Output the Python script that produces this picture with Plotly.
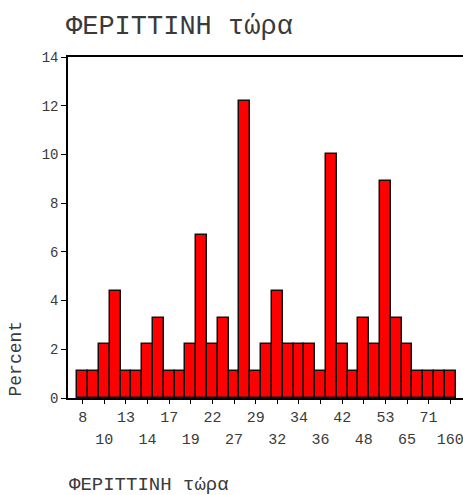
import plotly.graph_objects as go

# Percent of cases per category (35 bars, left to right)
bar_percent = [1.1, 1.1, 2.2, 4.4, 1.1, 1.1, 2.2, 3.3, 1.1, 1.1,
               2.2, 6.7, 2.2, 3.3, 1.1, 12.2, 1.1, 2.2, 4.4, 2.2,
               2.2, 2.2, 1.1, 10.0, 2.2, 1.1, 3.3, 2.2, 8.9, 3.3,
               2.2, 1.1, 1.1, 1.1, 1.1]
bar_index = list(range(len(bar_percent)))

# tick labels (every second bar carries a label, alternating in two rows)
tick_labels_row1 = ["8", "13", "17", "22", "29", "34", "42", "53", "71"]
tick_labels_row2 = ["10", "14", "19", "27", "32", "36", "48", "65", "160"]
y_ticks = [0, 2, 4, 6, 8, 10, 12, 14]

title_text = "ΦΕΡΙΤΤΙΝΗ τώρα"
x_title_text = "ΦΕΡΙΤΤΙΝΗ τώρα"
y_title_text = "Percent"

FONT = "Liberation Mono, Courier New, monospace"
TXT = "#3a3a3a"

labeled = bar_index[::2]
row1_vals = labeled[::2]
row2_vals = labeled[1::2]
main_ticktext = []
for i, v in enumerate(labeled):
    main_ticktext.append(tick_labels_row1[i // 2] if i % 2 == 0 else "")

fig = go.Figure()
fig.add_trace(go.Bar(
    x=bar_index, y=bar_percent, width=1.0,
    marker=dict(color="#ff0000", line=dict(color="#111111", width=1.5)),
    showlegend=False, hoverinfo="y",
))
# invisible trace for the second row of tick labels
fig.add_trace(go.Scatter(x=[bar_index[0]], y=[0], xaxis="x2", yaxis="y",
                         mode="markers", marker=dict(opacity=0),
                         showlegend=False, hoverinfo="skip"))

W, H = 463, 495
top, bottom = 57, 421
plot_h = bottom - top
y_axis_px = 398
ydom0 = (bottom - y_axis_px) / plot_h
xr = [-1.36, 35.18]

fig.update_layout(
    width=W, height=H,
    margin=dict(l=68, r=0, t=top, b=H - bottom),
    paper_bgcolor="white", plot_bgcolor="white",
    bargap=0,
    font=dict(family=FONT, color=TXT),
    xaxis=dict(
        range=xr, tickmode="array", tickvals=labeled, ticktext=main_ticktext,
        ticks="outside", ticklen=4, tickwidth=1, tickcolor="#000",
        showline=True, linecolor="#000", linewidth=1.5, mirror=True,
        showgrid=False, zeroline=False, anchor="y",
        ticklabeloverflow="allow",
        tickfont=dict(family=FONT, size=15, color=TXT),
    ),
    xaxis2=dict(
        range=xr, tickmode="array", tickvals=row2_vals, ticktext=tick_labels_row2,
        ticks="outside", ticklen=4, tickcolor="rgba(0,0,0,0)",
        showline=False, showgrid=False, zeroline=False,
        anchor="free", position=0, overlaying="x", side="bottom",
        ticklabeloverflow="allow",
        tickfont=dict(family=FONT, size=15, color=TXT),
    ),
    yaxis=dict(
        range=[0, 14], domain=[ydom0, 1], tickmode="array", tickvals=y_ticks,
        ticks="outside", ticklen=5, tickwidth=1, tickcolor="#000",
        showline=True, linecolor="#000", linewidth=1.5,
        showgrid=False, zeroline=False,
        tickfont=dict(family=FONT, size=14, color=TXT),
    ),
    title=dict(text=title_text, x=66 / W, xanchor="left", xref="container",
               y=1 - 25 / H, yanchor="middle", yref="container",
               font=dict(family=FONT, size=27, color=TXT)),
)

fig.add_annotation(text=x_title_text, xref="paper", yref="paper",
                   x=-1 / 395, y=(bottom - 485) / plot_h, xanchor="left", yanchor="middle",
                   showarrow=False, font=dict(family=FONT, size=19, color=TXT))
fig.add_annotation(text=y_title_text, xref="paper", yref="paper",
                   x=(15.5 - 68) / 395, y=(bottom - 359) / plot_h, xanchor="center", yanchor="middle",
                   textangle=-90, showarrow=False, font=dict(family=FONT, size=18, color=TXT))

fig.write_html("out.html")
